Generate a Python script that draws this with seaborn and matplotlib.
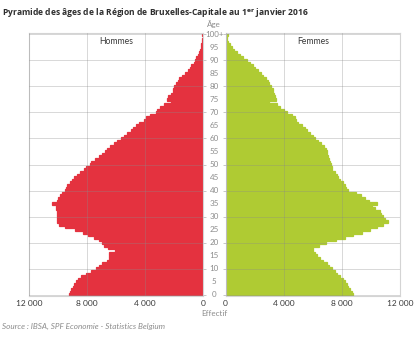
import matplotlib
matplotlib.use("Agg")
import matplotlib.pyplot as plt
import matplotlib.transforms as mtransforms
import numpy as np
import pandas as pd
import seaborn as sns

# Population of the Brussels-Capital Region on 1 January 2016, by single year of age
ages = list(range(101))
hommes = [9250, 9150, 9100, 9000, 8900, 8750, 8650, 8400, 8100, 7700,
          7400, 7200, 6950, 6650, 6500, 6450, 6500, 6100, 6550, 6800,
          6950, 7150, 7500, 7900, 8300, 8850, 9500, 9950, 10050, 10100,
          10100, 10050, 10100, 10150, 10150, 10400, 10050, 10000, 9850, 9750,
          9550, 9450, 9350, 9200, 9050, 8900, 8700, 8500, 8200, 8050,
          7800, 7700, 7450, 7150, 7000, 6750, 6600, 6400, 6150, 5950,
          5650, 5450, 5250, 5000, 4800, 4600, 4400, 4100, 3900, 3650,
          3250, 3200, 3000, 2700, 2200, 2500, 2400, 2200, 2100, 2050,
          2000, 1880, 1720, 1650, 1420, 1260, 1030, 920, 800, 640,
          570, 460, 340, 270, 230, 160, 120, 80, 50, 30, 40]
femmes = [8770, 8700, 8550, 8450, 8350, 8250, 8050, 7900, 7650, 7500,
          7350, 7150, 6950, 6700, 6500, 6300, 6150, 6050, 6050, 6400,
          6900, 7600, 8200, 8800, 9400, 9950, 10400, 10800, 11150, 11000,
          10800, 10700, 10600, 10250, 10050, 10400, 9900, 9600, 9350, 9000,
          8450, 8300, 8200, 8080, 7900, 7750, 7650, 7500, 7350, 7300,
          7250, 7200, 7150, 7050, 6950, 6950, 6900, 6750, 6600, 6350,
          6150, 6000, 5800, 5600, 5450, 5250, 5000, 4850, 4750, 4550,
          4200, 4000, 3750, 3550, 3000, 3450, 3400, 3350, 3300, 3250,
          3150, 3000, 2900, 2800, 2600, 2420, 2250, 2050, 1870, 1700,
          1450, 1230, 1000, 780, 600, 440, 300, 200, 130, 80, 200]

age_ticks = list(range(0, 101, 5))
age_labels = [str(a) for a in range(0, 100, 5)] + ["100+"]
x_ticks = [0, 4000, 8000, 12000]
x_labels = ["0", "4 000", "8 000", "12 000"]

RED = "#E4323F"
GREEN = "#AFCB33"
GRID = "#8a8a8a"
SPINE = "#d4d4d4"
TXT = "#3a3a3a"
GREY_TXT = "#8c8c8c"

df = pd.DataFrame({"age": ages, "Hommes": hommes, "Femmes": femmes})

sns.set_theme(style="white")
plt.rcParams["font.family"] = ["Lato", "DejaVu Sans"]

W, H = 415, 342
fig = plt.figure(figsize=(W / 100, H / 100), dpi=100)

def px_axes(x0, x1, y0, y1):
    return fig.add_axes([x0 / W, 1 - y1 / H, (x1 - x0) / W, (y1 - y0) / H])

axL = px_axes(29, 203, 33, 296)
axR = px_axes(225.5, 400, 33, 296)

for ax, col, color in [(axL, "Hommes", RED), (axR, "Femmes", GREEN)]:
    sns.barplot(data=df, x=col, y="age", orient="h", native_scale=True,
                color=color, width=1.0, errorbar=None, ax=ax,
                linewidth=0.9, edgecolor=color, saturation=1)
    ax.set_ylim(-0.5, 100.5)
    ax.set_xlim(0, 12000)
    ax.set_xlabel("")
    ax.set_ylabel("")
    ax.set_yticks(range(0, 101, 10))
    ax.set_yticklabels([])
    ax.set_xticks(x_ticks)
    ax.set_xticklabels(x_labels, fontsize=6, color=TXT)
    ax.tick_params(axis="x", length=0, pad=3)
    ax.tick_params(axis="y", length=2.5, width=0.6, color="#bdbdbd", direction="out")
    ax.grid(True, color=GRID, alpha=0.33, linewidth=0.7)
    ax.set_axisbelow(False)
    for s in ax.spines.values():
        s.set_color(SPINE)
        s.set_linewidth(0.8)
    ax.text(6000, 97.3, col, ha="center", va="center", fontsize=6.2, color=TXT)

axL.invert_xaxis()
axL.yaxis.tick_right()
axR.yaxis.tick_left()

# Age labels in the gap between the two halves
cx = (203 + 225.5) / 2 / W
trans = mtransforms.blended_transform_factory(fig.transFigure, axL.transData)
for a, lab in zip(age_ticks, age_labels):
    fig.text(cx, a, lab, transform=trans, ha="center", va="center",
             fontsize=5.8, color=GREY_TXT)

fig.text(cx, 1 - 24 / H, "Âge", ha="center", va="center", fontsize=5.8, color=GREY_TXT)
fig.text(cx, 1 - 314 / H, "Effectif", ha="center", va="center", fontsize=5.8, color=GREY_TXT)

fig.text(2 / W, 1 - 13 / H,
         r"Pyramide des âges de la Région de Bruxelles-Capitale au 1$^{\mathbf{er}}$ janvier 2016",
         ha="left", va="center", fontsize=6.1, fontweight="bold", color="#2e2e2e",
         family="Open Sans")
fig.text(2 / W, 1 - 326 / H, "Source : IBSA, SPF Economie - Statistics Belgium",
         ha="left", va="center", fontsize=5.9, style="italic", color=GREY_TXT)

fig.savefig("out.png", dpi=100)
